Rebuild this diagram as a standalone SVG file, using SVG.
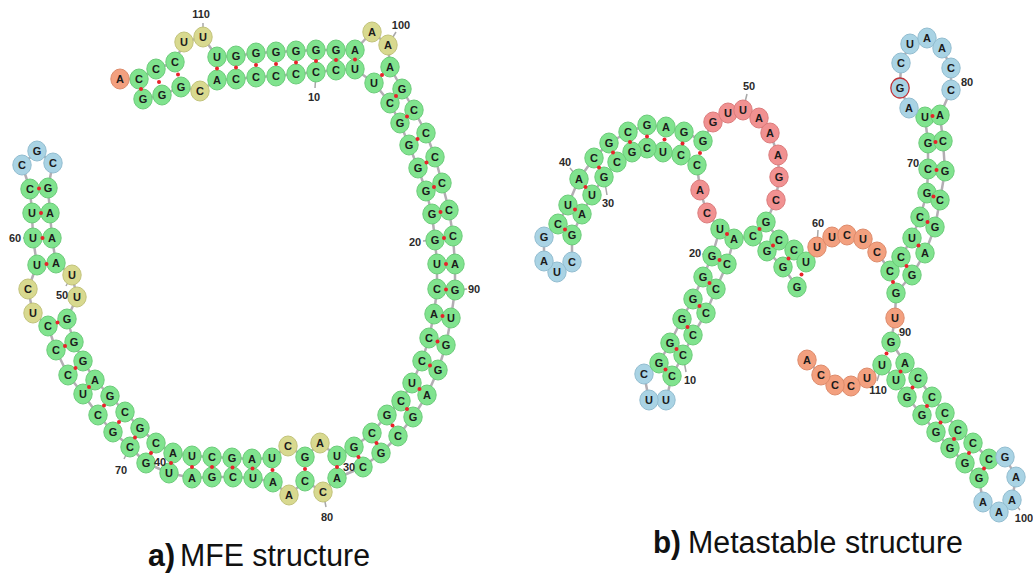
<svg xmlns="http://www.w3.org/2000/svg" width="1033" height="577" viewBox="0 0 1033 577">
<style>
ellipse{rx:9.2px;ry:10px;stroke-width:1}
.s ellipse{fill:#80e38e;stroke:#6ccc7a}
.y ellipse{fill:#d8d98f;stroke:#c2c37a}
.h ellipse{fill:#a9d3e4;stroke:#92bdd0}
.m ellipse{fill:#f19191;stroke:#dc7c7c}
.e ellipse{fill:#f3a07f;stroke:#de8b6b}
.n text{font:bold 11px "Liberation Sans",Arial,sans-serif;fill:#1b1b1b;text-anchor:middle}
.lbl{font:bold 11px "Liberation Sans",Arial,sans-serif;fill:#2a2a2a;text-anchor:middle}
.bb{fill:none;stroke:#b3aeb3;stroke-width:2.5;stroke-linejoin:round}
.pd{fill:#e8222a}
.tk{stroke:#a8a8a8;stroke-width:1.5}
.cap{font-family:"Liberation Sans",Arial,sans-serif;font-size:31px;fill:#111}
</style>
<g id="connectors">
<polyline class="bb" points="143,99 162,95 181,87 200,91 217,80 236,79 256,77 276,76 296,74 316,72 336,70 355,69 374,83 390,103 400,123 409,145 418,168 426,191 432,214 435,240 437,264 437,289 434,314 429,338 422,361 412,383 401,401 387,415 372,433 354,447 337,456 320,443 305,457 288,446 272,458 252,459 232,458 212,457 192,456 173,453 156,443 140,428 125,412 110,396 95,380 83,361 74,342 67,319 77,297 72,275 56,263 52,238 50,213 48,188 53,163 37,151 22,165 30,189 32,213 33,238 37,265 28,289 33,313 48,326 56,350 68,375 83,394 98,415 113,432 130,447 146,463 169,473 192,478 212,477 233,477 253,478 273,482 289,495 305,481 323,492 337,478 363,467 381,453 398,436 413,417 427,395 438,370 446,345 451,318 455,290 455,264 453,236 449,210 442,183 435,157 426,133 414,110 402,89 390,67 388,45 372,32 355,50 336,50 316,50 296,51 276,52 256,53 236,56 217,57 203,37 184,42 175,62 156,69 139,79 120,79"/>
<polyline class="bb" points="797,287 783,267 767,251 753,236 734,239 727,264 716,289 706,313 693,335 683,355 672,376 666,400 649,400 644,374 659,363 670,343 682,319 693,299 703,277 712,256 720,229 707,213 700,190 697,165 681,155 663,152 647,148 632,152 617,162 604,177 592,195 582,214 572,235 572,262 557,272 544,261 544,237 558,224 568,205 579,179 594,158 609,143 628,132 647,125 666,127 684,132 703,141 713,122 728,113 743,110 759,118 770,133 778,155 779,177 776,200 766,222 779,240 794,250 806,262 817,247 832,237 847,235 863,239 877,252 890,271 901,257 912,238 920,217 927,193 928,169 928,143 925,117 909,108 900,88 901,63 910,44 927,38 942,48 951,68 951,90 940,115 943,141 945,171 940,200 935,227 925,253 912,275 896,293 895,318 891,342 905,363 918,378 932,397 945,413 958,430 973,443 989,459 1005,457 1016,477 1012,500 999,512 983,502 979,478 965,463 950,448 936,432 922,415 907,397 896,380 882,365 867,378 851,386 835,385 821,375 807,360"/>
<line class="tk" x1="203" y1="37" x2="203" y2="23"/>
<line class="tk" x1="388" y1="45" x2="396" y2="32"/>
<line class="tk" x1="316" y1="72" x2="315" y2="88"/>
<line class="tk" x1="435" y1="240" x2="423" y2="241"/>
<line class="tk" x1="455" y1="290" x2="467" y2="289"/>
<line class="tk" x1="33" y1="238" x2="23" y2="238"/>
<line class="tk" x1="72" y1="275" x2="66" y2="286"/>
<line class="tk" x1="130" y1="447" x2="124" y2="459"/>
<line class="tk" x1="323" y1="492" x2="326" y2="507"/>
<line class="tk" x1="683" y1="355" x2="686" y2="372"/>
<line class="tk" x1="712" y1="256" x2="702" y2="254"/>
<line class="tk" x1="604" y1="177" x2="607" y2="195"/>
<line class="tk" x1="579" y1="179" x2="570" y2="168"/>
<line class="tk" x1="743" y1="110" x2="747" y2="94"/>
<line class="tk" x1="817" y1="247" x2="818" y2="230"/>
<line class="tk" x1="928" y1="169" x2="920" y2="166"/>
<line class="tk" x1="951" y1="90" x2="959" y2="84"/>
<line class="tk" x1="891" y1="342" x2="899" y2="334"/>
<line class="tk" x1="1012" y1="500" x2="1020" y2="510"/>
<line class="tk" x1="882" y1="365" x2="877" y2="381"/>
</g>
<g id="structure-a">
<g id="a1" class="n s"><ellipse cx="143" cy="99"/><text x="143" y="103">G</text></g>
<g id="a2" class="n s"><ellipse cx="162" cy="95"/><text x="162" y="99">G</text></g>
<g id="a3" class="n s"><ellipse cx="181" cy="87"/><text x="181" y="91">G</text></g>
<g id="a4" class="n y"><ellipse cx="200" cy="91"/><text x="200" y="95">C</text></g>
<g id="a5" class="n s"><ellipse cx="217" cy="80"/><text x="217" y="84">A</text></g>
<g id="a6" class="n s"><ellipse cx="236" cy="79"/><text x="236" y="83">C</text></g>
<g id="a7" class="n s"><ellipse cx="256" cy="77"/><text x="256" y="81">C</text></g>
<g id="a8" class="n s"><ellipse cx="276" cy="76"/><text x="276" y="80">C</text></g>
<g id="a9" class="n s"><ellipse cx="296" cy="74"/><text x="296" y="78">C</text></g>
<g id="a10" class="n s"><ellipse cx="316" cy="72"/><text x="316" y="76">C</text></g>
<g id="a11" class="n s"><ellipse cx="336" cy="70"/><text x="336" y="74">C</text></g>
<g id="a12" class="n s"><ellipse cx="355" cy="69"/><text x="355" y="73">U</text></g>
<g id="a13" class="n s"><ellipse cx="374" cy="83"/><text x="374" y="87">U</text></g>
<g id="a14" class="n s"><ellipse cx="390" cy="103"/><text x="390" y="107">C</text></g>
<g id="a15" class="n s"><ellipse cx="400" cy="123"/><text x="400" y="127">G</text></g>
<g id="a16" class="n s"><ellipse cx="409" cy="145"/><text x="409" y="149">G</text></g>
<g id="a17" class="n s"><ellipse cx="418" cy="168"/><text x="418" y="172">G</text></g>
<g id="a18" class="n s"><ellipse cx="426" cy="191"/><text x="426" y="195">G</text></g>
<g id="a19" class="n s"><ellipse cx="432" cy="214"/><text x="432" y="218">G</text></g>
<g id="a20" class="n s"><ellipse cx="435" cy="240"/><text x="435" y="244">G</text></g>
<g id="a21" class="n s"><ellipse cx="437" cy="264"/><text x="437" y="268">U</text></g>
<g id="a22" class="n s"><ellipse cx="437" cy="289"/><text x="437" y="293">C</text></g>
<g id="a23" class="n s"><ellipse cx="434" cy="314"/><text x="434" y="318">A</text></g>
<g id="a24" class="n s"><ellipse cx="429" cy="338"/><text x="429" y="342">C</text></g>
<g id="a25" class="n s"><ellipse cx="422" cy="361"/><text x="422" y="365">C</text></g>
<g id="a26" class="n s"><ellipse cx="412" cy="383"/><text x="412" y="387">U</text></g>
<g id="a27" class="n s"><ellipse cx="401" cy="401"/><text x="401" y="405">C</text></g>
<g id="a28" class="n s"><ellipse cx="387" cy="415"/><text x="387" y="419">G</text></g>
<g id="a29" class="n s"><ellipse cx="372" cy="433"/><text x="372" y="437">C</text></g>
<g id="a30" class="n s"><ellipse cx="354" cy="447"/><text x="354" y="451">G</text></g>
<g id="a31" class="n s"><ellipse cx="337" cy="456"/><text x="337" y="460">U</text></g>
<g id="a32" class="n y"><ellipse cx="320" cy="443"/><text x="320" y="447">A</text></g>
<g id="a33" class="n s"><ellipse cx="305" cy="457"/><text x="305" y="461">G</text></g>
<g id="a34" class="n y"><ellipse cx="288" cy="446"/><text x="288" y="450">C</text></g>
<g id="a35" class="n s"><ellipse cx="272" cy="458"/><text x="272" y="462">U</text></g>
<g id="a36" class="n s"><ellipse cx="252" cy="459"/><text x="252" y="463">A</text></g>
<g id="a37" class="n s"><ellipse cx="232" cy="458"/><text x="232" y="462">G</text></g>
<g id="a38" class="n s"><ellipse cx="212" cy="457"/><text x="212" y="461">C</text></g>
<g id="a39" class="n s"><ellipse cx="192" cy="456"/><text x="192" y="460">U</text></g>
<g id="a40" class="n s"><ellipse cx="173" cy="453"/><text x="173" y="457">A</text></g>
<g id="a41" class="n s"><ellipse cx="156" cy="443"/><text x="156" y="447">C</text></g>
<g id="a42" class="n s"><ellipse cx="140" cy="428"/><text x="140" y="432">G</text></g>
<g id="a43" class="n s"><ellipse cx="125" cy="412"/><text x="125" y="416">C</text></g>
<g id="a44" class="n s"><ellipse cx="110" cy="396"/><text x="110" y="400">G</text></g>
<g id="a45" class="n s"><ellipse cx="95" cy="380"/><text x="95" y="384">A</text></g>
<g id="a46" class="n s"><ellipse cx="83" cy="361"/><text x="83" y="365">G</text></g>
<g id="a47" class="n s"><ellipse cx="74" cy="342"/><text x="74" y="346">G</text></g>
<g id="a48" class="n s"><ellipse cx="67" cy="319"/><text x="67" y="323">G</text></g>
<g id="a49" class="n y"><ellipse cx="77" cy="297"/><text x="77" y="301">U</text></g>
<g id="a50" class="n y"><ellipse cx="72" cy="275"/><text x="72" y="279">U</text></g>
<g id="a51" class="n s"><ellipse cx="56" cy="263"/><text x="56" y="267">A</text></g>
<g id="a52" class="n s"><ellipse cx="52" cy="238"/><text x="52" y="242">A</text></g>
<g id="a53" class="n s"><ellipse cx="50" cy="213"/><text x="50" y="217">A</text></g>
<g id="a54" class="n s"><ellipse cx="48" cy="188"/><text x="48" y="192">G</text></g>
<g id="a55" class="n h"><ellipse cx="53" cy="163"/><text x="53" y="167">C</text></g>
<g id="a56" class="n h"><ellipse cx="37" cy="151"/><text x="37" y="155">G</text></g>
<g id="a57" class="n h"><ellipse cx="22" cy="165"/><text x="22" y="169">C</text></g>
<g id="a58" class="n s"><ellipse cx="30" cy="189"/><text x="30" y="193">C</text></g>
<g id="a59" class="n s"><ellipse cx="32" cy="213"/><text x="32" y="217">U</text></g>
<g id="a60" class="n s"><ellipse cx="33" cy="238"/><text x="33" y="242">U</text></g>
<g id="a61" class="n s"><ellipse cx="37" cy="265"/><text x="37" y="269">U</text></g>
<g id="a62" class="n y"><ellipse cx="28" cy="289"/><text x="28" y="293">C</text></g>
<g id="a63" class="n y"><ellipse cx="33" cy="313"/><text x="33" y="317">U</text></g>
<g id="a64" class="n s"><ellipse cx="48" cy="326"/><text x="48" y="330">C</text></g>
<g id="a65" class="n s"><ellipse cx="56" cy="350"/><text x="56" y="354">C</text></g>
<g id="a66" class="n s"><ellipse cx="68" cy="375"/><text x="68" y="379">C</text></g>
<g id="a67" class="n s"><ellipse cx="83" cy="394"/><text x="83" y="398">U</text></g>
<g id="a68" class="n s"><ellipse cx="98" cy="415"/><text x="98" y="419">C</text></g>
<g id="a69" class="n s"><ellipse cx="113" cy="432"/><text x="113" y="436">G</text></g>
<g id="a70" class="n s"><ellipse cx="130" cy="447"/><text x="130" y="451">C</text></g>
<g id="a71" class="n s"><ellipse cx="146" cy="463"/><text x="146" y="467">G</text></g>
<g id="a72" class="n s"><ellipse cx="169" cy="473"/><text x="169" y="477">U</text></g>
<g id="a73" class="n s"><ellipse cx="192" cy="478"/><text x="192" y="482">A</text></g>
<g id="a74" class="n s"><ellipse cx="212" cy="477"/><text x="212" y="481">G</text></g>
<g id="a75" class="n s"><ellipse cx="233" cy="477"/><text x="233" y="481">C</text></g>
<g id="a76" class="n s"><ellipse cx="253" cy="478"/><text x="253" y="482">U</text></g>
<g id="a77" class="n s"><ellipse cx="273" cy="482"/><text x="273" y="486">A</text></g>
<g id="a78" class="n y"><ellipse cx="289" cy="495"/><text x="289" y="499">A</text></g>
<g id="a79" class="n s"><ellipse cx="305" cy="481"/><text x="305" y="485">C</text></g>
<g id="a80" class="n y"><ellipse cx="323" cy="492"/><text x="323" y="496">C</text></g>
<g id="a81" class="n s"><ellipse cx="337" cy="478"/><text x="337" y="482">A</text></g>
<g id="a82" class="n s"><ellipse cx="363" cy="467"/><text x="363" y="471">C</text></g>
<g id="a83" class="n s"><ellipse cx="381" cy="453"/><text x="381" y="457">G</text></g>
<g id="a84" class="n s"><ellipse cx="398" cy="436"/><text x="398" y="440">C</text></g>
<g id="a85" class="n s"><ellipse cx="413" cy="417"/><text x="413" y="421">G</text></g>
<g id="a86" class="n s"><ellipse cx="427" cy="395"/><text x="427" y="399">A</text></g>
<g id="a87" class="n s"><ellipse cx="438" cy="370"/><text x="438" y="374">G</text></g>
<g id="a88" class="n s"><ellipse cx="446" cy="345"/><text x="446" y="349">G</text></g>
<g id="a89" class="n s"><ellipse cx="451" cy="318"/><text x="451" y="322">U</text></g>
<g id="a90" class="n s"><ellipse cx="455" cy="290"/><text x="455" y="294">G</text></g>
<g id="a91" class="n s"><ellipse cx="455" cy="264"/><text x="455" y="268">A</text></g>
<g id="a92" class="n s"><ellipse cx="453" cy="236"/><text x="453" y="240">C</text></g>
<g id="a93" class="n s"><ellipse cx="449" cy="210"/><text x="449" y="214">C</text></g>
<g id="a94" class="n s"><ellipse cx="442" cy="183"/><text x="442" y="187">C</text></g>
<g id="a95" class="n s"><ellipse cx="435" cy="157"/><text x="435" y="161">C</text></g>
<g id="a96" class="n s"><ellipse cx="426" cy="133"/><text x="426" y="137">C</text></g>
<g id="a97" class="n s"><ellipse cx="414" cy="110"/><text x="414" y="114">C</text></g>
<g id="a98" class="n s"><ellipse cx="402" cy="89"/><text x="402" y="93">G</text></g>
<g id="a99" class="n s"><ellipse cx="390" cy="67"/><text x="390" y="71">A</text></g>
<g id="a100" class="n y"><ellipse cx="388" cy="45"/><text x="388" y="49">A</text></g>
<g id="a101" class="n y"><ellipse cx="372" cy="32"/><text x="372" y="36">A</text></g>
<g id="a102" class="n s"><ellipse cx="355" cy="50"/><text x="355" y="54">A</text></g>
<g id="a103" class="n s"><ellipse cx="336" cy="50"/><text x="336" y="54">G</text></g>
<g id="a104" class="n s"><ellipse cx="316" cy="50"/><text x="316" y="54">G</text></g>
<g id="a105" class="n s"><ellipse cx="296" cy="51"/><text x="296" y="55">G</text></g>
<g id="a106" class="n s"><ellipse cx="276" cy="52"/><text x="276" y="56">G</text></g>
<g id="a107" class="n s"><ellipse cx="256" cy="53"/><text x="256" y="57">G</text></g>
<g id="a108" class="n s"><ellipse cx="236" cy="56"/><text x="236" y="60">G</text></g>
<g id="a109" class="n s"><ellipse cx="217" cy="57"/><text x="217" y="61">U</text></g>
<g id="a110" class="n y"><ellipse cx="203" cy="37"/><text x="203" y="41">U</text></g>
<g id="a111" class="n y"><ellipse cx="184" cy="42"/><text x="184" y="46">U</text></g>
<g id="a112" class="n s"><ellipse cx="175" cy="62"/><text x="175" y="66">C</text></g>
<g id="a113" class="n s"><ellipse cx="156" cy="69"/><text x="156" y="73">C</text></g>
<g id="a114" class="n s"><ellipse cx="139" cy="79"/><text x="139" y="83">C</text></g>
<g id="a115" class="n e"><ellipse cx="120" cy="79"/><text x="120" y="83">A</text></g>
</g>
<g id="structure-b">
<g id="b1" class="n s"><ellipse cx="797" cy="287"/><text x="797" y="291">G</text></g>
<g id="b2" class="n s"><ellipse cx="783" cy="267"/><text x="783" y="271">G</text></g>
<g id="b3" class="n s"><ellipse cx="767" cy="251"/><text x="767" y="255">G</text></g>
<g id="b4" class="n s"><ellipse cx="753" cy="236"/><text x="753" y="240">C</text></g>
<g id="b5" class="n s"><ellipse cx="734" cy="239"/><text x="734" y="243">A</text></g>
<g id="b6" class="n s"><ellipse cx="727" cy="264"/><text x="727" y="268">C</text></g>
<g id="b7" class="n s"><ellipse cx="716" cy="289"/><text x="716" y="293">C</text></g>
<g id="b8" class="n s"><ellipse cx="706" cy="313"/><text x="706" y="317">C</text></g>
<g id="b9" class="n s"><ellipse cx="693" cy="335"/><text x="693" y="339">C</text></g>
<g id="b10" class="n s"><ellipse cx="683" cy="355"/><text x="683" y="359">C</text></g>
<g id="b11" class="n s"><ellipse cx="672" cy="376"/><text x="672" y="380">C</text></g>
<g id="b12" class="n h"><ellipse cx="666" cy="400"/><text x="666" y="404">U</text></g>
<g id="b13" class="n h"><ellipse cx="649" cy="400"/><text x="649" y="404">U</text></g>
<g id="b14" class="n h"><ellipse cx="644" cy="374"/><text x="644" y="378">C</text></g>
<g id="b15" class="n s"><ellipse cx="659" cy="363"/><text x="659" y="367">G</text></g>
<g id="b16" class="n s"><ellipse cx="670" cy="343"/><text x="670" y="347">G</text></g>
<g id="b17" class="n s"><ellipse cx="682" cy="319"/><text x="682" y="323">G</text></g>
<g id="b18" class="n s"><ellipse cx="693" cy="299"/><text x="693" y="303">G</text></g>
<g id="b19" class="n s"><ellipse cx="703" cy="277"/><text x="703" y="281">G</text></g>
<g id="b20" class="n s"><ellipse cx="712" cy="256"/><text x="712" y="260">G</text></g>
<g id="b21" class="n s"><ellipse cx="720" cy="229"/><text x="720" y="233">U</text></g>
<g id="b22" class="n m"><ellipse cx="707" cy="213"/><text x="707" y="217">C</text></g>
<g id="b23" class="n m"><ellipse cx="700" cy="190"/><text x="700" y="194">A</text></g>
<g id="b24" class="n s"><ellipse cx="697" cy="165"/><text x="697" y="169">C</text></g>
<g id="b25" class="n s"><ellipse cx="681" cy="155"/><text x="681" y="159">C</text></g>
<g id="b26" class="n s"><ellipse cx="663" cy="152"/><text x="663" y="156">U</text></g>
<g id="b27" class="n s"><ellipse cx="647" cy="148"/><text x="647" y="152">C</text></g>
<g id="b28" class="n s"><ellipse cx="632" cy="152"/><text x="632" y="156">G</text></g>
<g id="b29" class="n s"><ellipse cx="617" cy="162"/><text x="617" y="166">C</text></g>
<g id="b30" class="n s"><ellipse cx="604" cy="177"/><text x="604" y="181">G</text></g>
<g id="b31" class="n s"><ellipse cx="592" cy="195"/><text x="592" y="199">U</text></g>
<g id="b32" class="n s"><ellipse cx="582" cy="214"/><text x="582" y="218">A</text></g>
<g id="b33" class="n s"><ellipse cx="572" cy="235"/><text x="572" y="239">G</text></g>
<g id="b34" class="n h"><ellipse cx="572" cy="262"/><text x="572" y="266">C</text></g>
<g id="b35" class="n h"><ellipse cx="557" cy="272"/><text x="557" y="276">U</text></g>
<g id="b36" class="n h"><ellipse cx="544" cy="261"/><text x="544" y="265">A</text></g>
<g id="b37" class="n h"><ellipse cx="544" cy="237"/><text x="544" y="241">G</text></g>
<g id="b38" class="n s"><ellipse cx="558" cy="224"/><text x="558" y="228">C</text></g>
<g id="b39" class="n s"><ellipse cx="568" cy="205"/><text x="568" y="209">U</text></g>
<g id="b40" class="n s"><ellipse cx="579" cy="179"/><text x="579" y="183">A</text></g>
<g id="b41" class="n s"><ellipse cx="594" cy="158"/><text x="594" y="162">C</text></g>
<g id="b42" class="n s"><ellipse cx="609" cy="143"/><text x="609" y="147">G</text></g>
<g id="b43" class="n s"><ellipse cx="628" cy="132"/><text x="628" y="136">C</text></g>
<g id="b44" class="n s"><ellipse cx="647" cy="125"/><text x="647" y="129">G</text></g>
<g id="b45" class="n s"><ellipse cx="666" cy="127"/><text x="666" y="131">A</text></g>
<g id="b46" class="n s"><ellipse cx="684" cy="132"/><text x="684" y="136">G</text></g>
<g id="b47" class="n s"><ellipse cx="703" cy="141"/><text x="703" y="145">G</text></g>
<g id="b48" class="n m"><ellipse cx="713" cy="122"/><text x="713" y="126">G</text></g>
<g id="b49" class="n m"><ellipse cx="728" cy="113"/><text x="728" y="117">U</text></g>
<g id="b50" class="n m"><ellipse cx="743" cy="110"/><text x="743" y="114">U</text></g>
<g id="b51" class="n m"><ellipse cx="759" cy="118"/><text x="759" y="122">A</text></g>
<g id="b52" class="n m"><ellipse cx="770" cy="133"/><text x="770" y="137">A</text></g>
<g id="b53" class="n m"><ellipse cx="778" cy="155"/><text x="778" y="159">A</text></g>
<g id="b54" class="n m"><ellipse cx="779" cy="177"/><text x="779" y="181">G</text></g>
<g id="b55" class="n m"><ellipse cx="776" cy="200"/><text x="776" y="204">C</text></g>
<g id="b56" class="n s"><ellipse cx="766" cy="222"/><text x="766" y="226">G</text></g>
<g id="b57" class="n s"><ellipse cx="779" cy="240"/><text x="779" y="244">C</text></g>
<g id="b58" class="n s"><ellipse cx="794" cy="250"/><text x="794" y="254">C</text></g>
<g id="b59" class="n s"><ellipse cx="806" cy="262"/><text x="806" y="266">U</text></g>
<g id="b60" class="n e"><ellipse cx="817" cy="247"/><text x="817" y="251">U</text></g>
<g id="b61" class="n e"><ellipse cx="832" cy="237"/><text x="832" y="241">U</text></g>
<g id="b62" class="n e"><ellipse cx="847" cy="235"/><text x="847" y="239">C</text></g>
<g id="b63" class="n e"><ellipse cx="863" cy="239"/><text x="863" y="243">U</text></g>
<g id="b64" class="n e"><ellipse cx="877" cy="252"/><text x="877" y="256">C</text></g>
<g id="b65" class="n s"><ellipse cx="890" cy="271"/><text x="890" y="275">C</text></g>
<g id="b66" class="n s"><ellipse cx="901" cy="257"/><text x="901" y="261">C</text></g>
<g id="b67" class="n s"><ellipse cx="912" cy="238"/><text x="912" y="242">U</text></g>
<g id="b68" class="n s"><ellipse cx="920" cy="217"/><text x="920" y="221">C</text></g>
<g id="b69" class="n s"><ellipse cx="927" cy="193"/><text x="927" y="197">G</text></g>
<g id="b70" class="n s"><ellipse cx="928" cy="169"/><text x="928" y="173">C</text></g>
<g id="b71" class="n s"><ellipse cx="928" cy="143"/><text x="928" y="147">G</text></g>
<g id="b72" class="n s"><ellipse cx="925" cy="117"/><text x="925" y="121">U</text></g>
<g id="b73" class="n h"><ellipse cx="909" cy="108"/><text x="909" y="112">A</text></g>
<g id="b74" class="n h"><ellipse cx="900" cy="88" style="stroke:#c0343a;stroke-width:1.3"/><text x="900" y="92">G</text></g>
<g id="b75" class="n h"><ellipse cx="901" cy="63"/><text x="901" y="67">C</text></g>
<g id="b76" class="n h"><ellipse cx="910" cy="44"/><text x="910" y="48">U</text></g>
<g id="b77" class="n h"><ellipse cx="927" cy="38"/><text x="927" y="42">A</text></g>
<g id="b78" class="n h"><ellipse cx="942" cy="48"/><text x="942" y="52">A</text></g>
<g id="b79" class="n h"><ellipse cx="951" cy="68"/><text x="951" y="72">C</text></g>
<g id="b80" class="n h"><ellipse cx="951" cy="90"/><text x="951" y="94">C</text></g>
<g id="b81" class="n s"><ellipse cx="940" cy="115"/><text x="940" y="119">A</text></g>
<g id="b82" class="n s"><ellipse cx="943" cy="141"/><text x="943" y="145">C</text></g>
<g id="b83" class="n s"><ellipse cx="945" cy="171"/><text x="945" y="175">G</text></g>
<g id="b84" class="n s"><ellipse cx="940" cy="200"/><text x="940" y="204">C</text></g>
<g id="b85" class="n s"><ellipse cx="935" cy="227"/><text x="935" y="231">G</text></g>
<g id="b86" class="n s"><ellipse cx="925" cy="253"/><text x="925" y="257">A</text></g>
<g id="b87" class="n s"><ellipse cx="912" cy="275"/><text x="912" y="279">G</text></g>
<g id="b88" class="n s"><ellipse cx="896" cy="293"/><text x="896" y="297">G</text></g>
<g id="b89" class="n e"><ellipse cx="895" cy="318"/><text x="895" y="322">U</text></g>
<g id="b90" class="n s"><ellipse cx="891" cy="342"/><text x="891" y="346">G</text></g>
<g id="b91" class="n s"><ellipse cx="905" cy="363"/><text x="905" y="367">A</text></g>
<g id="b92" class="n s"><ellipse cx="918" cy="378"/><text x="918" y="382">C</text></g>
<g id="b93" class="n s"><ellipse cx="932" cy="397"/><text x="932" y="401">C</text></g>
<g id="b94" class="n s"><ellipse cx="945" cy="413"/><text x="945" y="417">C</text></g>
<g id="b95" class="n s"><ellipse cx="958" cy="430"/><text x="958" y="434">C</text></g>
<g id="b96" class="n s"><ellipse cx="973" cy="443"/><text x="973" y="447">C</text></g>
<g id="b97" class="n s"><ellipse cx="989" cy="459"/><text x="989" y="463">C</text></g>
<g id="b98" class="n h"><ellipse cx="1005" cy="457"/><text x="1005" y="461">G</text></g>
<g id="b99" class="n h"><ellipse cx="1016" cy="477"/><text x="1016" y="481">A</text></g>
<g id="b100" class="n h"><ellipse cx="1012" cy="500"/><text x="1012" y="504">A</text></g>
<g id="b101" class="n h"><ellipse cx="999" cy="512"/><text x="999" y="516">A</text></g>
<g id="b102" class="n h"><ellipse cx="983" cy="502"/><text x="983" y="506">A</text></g>
<g id="b103" class="n s"><ellipse cx="979" cy="478"/><text x="979" y="482">G</text></g>
<g id="b104" class="n s"><ellipse cx="965" cy="463"/><text x="965" y="467">G</text></g>
<g id="b105" class="n s"><ellipse cx="950" cy="448"/><text x="950" y="452">G</text></g>
<g id="b106" class="n s"><ellipse cx="936" cy="432"/><text x="936" y="436">G</text></g>
<g id="b107" class="n s"><ellipse cx="922" cy="415"/><text x="922" y="419">G</text></g>
<g id="b108" class="n s"><ellipse cx="907" cy="397"/><text x="907" y="401">G</text></g>
<g id="b109" class="n s"><ellipse cx="896" cy="380"/><text x="896" y="384">U</text></g>
<g id="b110" class="n s"><ellipse cx="882" cy="365"/><text x="882" y="369">U</text></g>
<g id="b111" class="n e"><ellipse cx="867" cy="378"/><text x="867" y="382">U</text></g>
<g id="b112" class="n e"><ellipse cx="851" cy="386"/><text x="851" y="390">C</text></g>
<g id="b113" class="n e"><ellipse cx="835" cy="385"/><text x="835" y="389">C</text></g>
<g id="b114" class="n e"><ellipse cx="821" cy="375"/><text x="821" y="379">C</text></g>
<g id="b115" class="n e"><ellipse cx="807" cy="360"/><text x="807" y="364">A</text></g>
</g>
<g id="pair-bonds" class="pd">
<circle cx="141" cy="89" r="2"/><circle cx="159" cy="82" r="2"/><circle cx="178" cy="74.5" r="2"/><circle cx="217" cy="68.5" r="2"/><circle cx="236" cy="67.5" r="2"/><circle cx="256" cy="65" r="2"/><circle cx="276" cy="64" r="2"/><circle cx="296" cy="62.5" r="2"/><circle cx="316" cy="61" r="2"/><circle cx="336" cy="60" r="2"/><circle cx="355" cy="59.5" r="2"/><circle cx="382" cy="75" r="2"/><circle cx="396" cy="96" r="2"/><circle cx="407" cy="116.5" r="2"/><circle cx="417.5" cy="139" r="2"/><circle cx="426.5" cy="162.5" r="2"/><circle cx="434" cy="187" r="2"/><circle cx="440.5" cy="212" r="2"/><circle cx="444" cy="238" r="2"/><circle cx="446" cy="264" r="2"/><circle cx="446" cy="289.5" r="2"/><circle cx="442.5" cy="316" r="2"/><circle cx="437.5" cy="341.5" r="2"/><circle cx="430" cy="365.5" r="2"/><circle cx="419.5" cy="389" r="2"/><circle cx="407" cy="409" r="2"/><circle cx="392.5" cy="425.5" r="2"/><circle cx="376.5" cy="443" r="2"/><circle cx="358.5" cy="457" r="2"/><circle cx="337" cy="467" r="2"/><circle cx="305" cy="469" r="2"/><circle cx="272.5" cy="470" r="2"/><circle cx="252.5" cy="468.5" r="2"/><circle cx="232.5" cy="467.5" r="2"/><circle cx="212" cy="467" r="2"/><circle cx="192" cy="467" r="2"/><circle cx="171" cy="463" r="2"/><circle cx="151" cy="453" r="2"/><circle cx="135" cy="437.5" r="2"/><circle cx="119" cy="422" r="2"/><circle cx="104" cy="405.5" r="2"/><circle cx="89" cy="387" r="2"/><circle cx="75.5" cy="368" r="2"/><circle cx="65" cy="346" r="2"/><circle cx="57.5" cy="322.5" r="2"/><circle cx="46.5" cy="264" r="2"/><circle cx="42.5" cy="238" r="2"/><circle cx="41" cy="213" r="2"/><circle cx="39" cy="188.5" r="2"/>
<circle cx="801.5" cy="274.5" r="2"/><circle cx="788.5" cy="258.5" r="2"/><circle cx="773" cy="245.5" r="2"/><circle cx="759.5" cy="229" r="2"/><circle cx="727" cy="234" r="2"/><circle cx="719.5" cy="260" r="2"/><circle cx="709.5" cy="283" r="2"/><circle cx="699.5" cy="306" r="2"/><circle cx="687.5" cy="327" r="2"/><circle cx="676.5" cy="349" r="2"/><circle cx="665.5" cy="369.5" r="2"/><circle cx="700" cy="153" r="2"/><circle cx="682.5" cy="143.5" r="2"/><circle cx="664.5" cy="139.5" r="2"/><circle cx="647" cy="136.5" r="2"/><circle cx="630" cy="142" r="2"/><circle cx="613" cy="152.5" r="2"/><circle cx="599" cy="167.5" r="2"/><circle cx="585.5" cy="187" r="2"/><circle cx="575" cy="209.5" r="2"/><circle cx="565" cy="229.5" r="2"/><circle cx="893" cy="282" r="2"/><circle cx="906.5" cy="266" r="2"/><circle cx="918.5" cy="245.5" r="2"/><circle cx="927.5" cy="222" r="2"/><circle cx="933.5" cy="196.5" r="2"/><circle cx="936.5" cy="170" r="2"/><circle cx="935.5" cy="142" r="2"/><circle cx="932.5" cy="116" r="2"/><circle cx="886.5" cy="353.5" r="2"/><circle cx="900.5" cy="371.5" r="2"/><circle cx="912.5" cy="387.5" r="2"/><circle cx="927" cy="406" r="2"/><circle cx="940.5" cy="422.5" r="2"/><circle cx="954" cy="439" r="2"/><circle cx="969" cy="453" r="2"/><circle cx="984" cy="468.5" r="2"/>
</g>
<g id="labels">
<text class="lbl" x="201" y="18">110</text>
<text class="lbl" x="401" y="29">100</text>
<text class="lbl" x="314" y="101">10</text>
<text class="lbl" x="415" y="246">20</text>
<text class="lbl" x="474" y="293">90</text>
<text class="lbl" x="349" y="471">30</text>
<text class="lbl" x="160" y="466">40</text>
<text class="lbl" x="62" y="299">50</text>
<text class="lbl" x="15" y="242">60</text>
<text class="lbl" x="121" y="474">70</text>
<text class="lbl" x="327" y="521">80</text>
<text class="lbl" x="690" y="384">10</text>
<text class="lbl" x="695" y="257">20</text>
<text class="lbl" x="608" y="207">30</text>
<text class="lbl" x="565" y="166">40</text>
<text class="lbl" x="749" y="90">50</text>
<text class="lbl" x="818" y="227">60</text>
<text class="lbl" x="913" y="167">70</text>
<text class="lbl" x="967" y="86">80</text>
<text class="lbl" x="905" y="336">90</text>
<text class="lbl" x="1024" y="522">100</text>
<text class="lbl" x="878" y="394">110</text>
</g>
<g id="captions">
<text class="cap" x="148" y="566" font-weight="bold" textLength="27" lengthAdjust="spacingAndGlyphs">a)</text>
<text class="cap" x="180" y="566" textLength="190" lengthAdjust="spacingAndGlyphs">MFE structure</text>
<text class="cap" x="653" y="553" font-weight="bold" textLength="28" lengthAdjust="spacingAndGlyphs">b)</text>
<text class="cap" x="688" y="553" textLength="275" lengthAdjust="spacingAndGlyphs">Metastable structure</text>
</g>
</svg>
